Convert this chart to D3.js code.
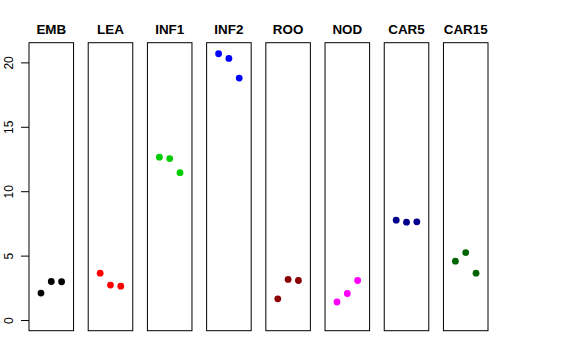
<!doctype html>
<html>
<head>
<script src="https://d3js.org/d3.v7.min.js"></script>
<style>
  body { margin: 0; background: #fff; }
  text { font-family: "Liberation Sans", Arial, sans-serif; }
</style>
</head>
<body>
<svg width="576" height="360"></svg>
<script>
// data
var groups = ["EMB", "LEA", "INF1", "INF2", "ROO", "NOD", "CAR5", "CAR15"];
var colors = ["#000000", "#FF0000", "#00CD00", "#0000FF", "#8B0000", "#FF00FF", "#00008B", "#006400"];
var emb = [2.09, 2.99, 2.97];
var lea = [3.64, 2.71, 2.63];
var inf1 = [12.64, 12.53, 11.44];
var inf2 = [20.67, 20.31, 18.78];
var roo = [1.65, 3.15, 3.07];
var nod = [1.40, 2.06, 3.07];
var car5 = [7.75, 7.60, 7.62];
var car15 = [4.57, 5.24, 3.64];
var values = [emb, lea, inf1, inf2, roo, nod, car5, car15];
var yTicks = [0, 5, 10, 15, 20];

var svg = d3.select("svg");
var plotTop = 42.7, plotBottom = 330.7;

// R style: ylim c(0, 20.7) with 4% extension
var yMax = 20.7, yPad = yMax * 0.04;
var yScale = d3.scaleLinear().domain([-yPad, yMax + yPad]).range([plotBottom, plotTop]);

var panel = d3.scaleBand().domain(groups).range([29, 488]).paddingInner(0.2475).paddingOuter(0);
var bw = panel.bandwidth();
// xlim c(0,4) with 4% extension
var xScale = d3.scaleLinear().domain([-0.16, 4.16]).range([0, bw]);

groups.forEach(function(name, i) {
    var g = svg.append("g").attr("transform", "translate(" + panel(name) + ",0)");

    g.append("rect")
        .attr("x", 0)
        .attr("y", plotTop)
        .attr("width", bw)
        .attr("height", plotBottom - plotTop)
        .attr("fill", "none")
        .attr("stroke", "#000")
        .attr("stroke-width", 1);

    g.append("text")
        .attr("x", bw / 2)
        .attr("y", 33.5)
        .attr("text-anchor", "middle")
        .style("font-weight", "bold")
        .style("font-size", "13.4px")
        .text(name);

    g.selectAll("circle")
        .data(values[i])
        .enter()
        .append("circle")
        .attr("cx", function(d, j) { return xScale(j + 1); })
        .attr("cy", function(d) { return yScale(d); })
        .attr("r", 3.4)
        .attr("fill", colors[i]);
});

// y axis on the first panel
var axis = svg.append("g")
    .attr("transform", "translate(" + panel(groups[0]) + ",0)")
    .call(d3.axisLeft(yScale).tickValues(yTicks).tickSize(8).tickPadding(0).tickFormat(d3.format("d")));
axis.select(".domain").remove();
axis.selectAll("line").attr("stroke", "#000");
axis.selectAll("text")
    .attr("x", null).attr("dy", null)
    .attr("transform", "translate(-16,0) rotate(-90)")
    .attr("text-anchor", "middle")
    .attr("fill", "#000")
    .style("font-size", "12px")
    .style("font-family", "Liberation Sans, Arial, sans-serif");
</script>
</body>
</html>
